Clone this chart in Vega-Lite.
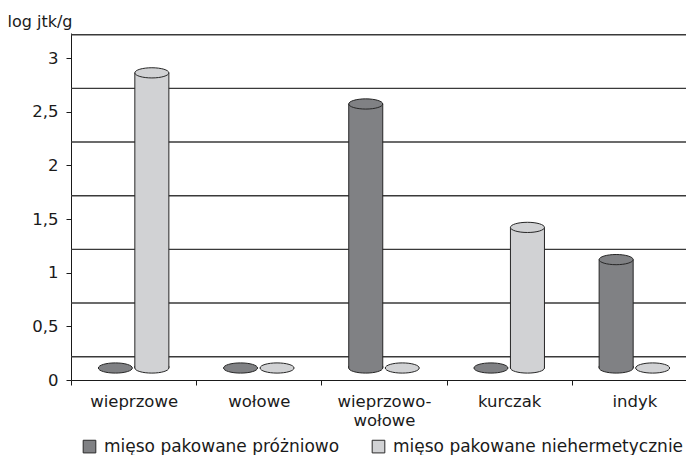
{
  "$schema": "https://vega.github.io/schema/vega-lite/v6.json",
  "width": 615,
  "height": 347,
  "autosize": {"type": "none"},
  "padding": {"left": 71, "top": 33, "right": 0, "bottom": 75},
  "background": "white",
  "config": {"view": {"stroke": null}, "font": "DejaVu Sans"},
  "datasets": {
    "bars": [
      {"category": "wieprzowe", "series": "mięso pakowane próżniowo", "value": 0},
      {"category": "wieprzowe", "series": "mięso pakowane niehermetycznie", "value": 2.75},
      {"category": "wołowe", "series": "mięso pakowane próżniowo", "value": 0},
      {"category": "wołowe", "series": "mięso pakowane niehermetycznie", "value": 0},
      {"category": "wieprzowo-wołowe", "series": "mięso pakowane próżniowo", "value": 2.46},
      {"category": "wieprzowo-wołowe", "series": "mięso pakowane niehermetycznie", "value": 0},
      {"category": "kurczak", "series": "mięso pakowane próżniowo", "value": 0},
      {"category": "kurczak", "series": "mięso pakowane niehermetycznie", "value": 1.31},
      {"category": "indyk", "series": "mięso pakowane próżniowo", "value": 1.01},
      {"category": "indyk", "series": "mięso pakowane niehermetycznie", "value": 0}
    ],
    "grid": [
      {"value": 0}, {"value": 0.5}, {"value": 1}, {"value": 1.5}, {"value": 2}, {"value": 2.5}, {"value": 3}
    ]
  },
  "encoding": {
    "y": {
      "field": "value",
      "type": "quantitative",
      "scale": {"domain": [0, 3.233], "nice": false, "zero": true},
      "axis": {
        "values": [0, 0.5, 1, 1.5, 2, 2.5, 3],
        "labelExpr": "replace(format(datum.value, '~g'), '.', ',')",
        "grid": false,
        "domainColor": "#1a1a1a",
        "tickColor": "#1a1a1a",
        "tickSize": 5,
        "labelPadding": 8,
        "labelFontSize": 16.5,
        "labelColor": "#1a1a1a",
        "title": "log jtk/g",
        "titleAngle": 0,
        "titleAlign": "left",
        "titleBaseline": "alphabetic",
        "titleX": -64,
        "titleY": -7,
        "titleFontSize": 16,
        "titleFontWeight": "normal",
        "titleColor": "#1a1a1a"
      }
    }
  },
  "layer": [
    {
      "data": {"name": "grid"},
      "mark": {"type": "rule", "yOffset": -23.3, "stroke": "#3a3a3a", "strokeWidth": 1.4}
    },
    {
      "data": {"name": "bars"},
      "encoding": {
        "x": {
          "field": "category",
          "type": "nominal",
          "sort": ["wieprzowe", "wołowe", "wieprzowo-wołowe", "kurczak", "indyk"],
          "scale": {"range": [0, 626], "paddingInner": 0, "paddingOuter": 0},
          "axis": {
            "title": null,
            "tickBand": "extent",
            "tickSize": 5,
            "labelPadding": 8,
            "labelFontSize": 16.5,
            "labelAngle": 0,
            "labelColor": "#1a1a1a",
            "labelLineHeight": 19,
            "labelExpr": "datum.value == 'wieprzowo-wołowe' ? ['wieprzowo-', 'wołowe'] : datum.value",
            "domainColor": "#1a1a1a",
            "tickColor": "#1a1a1a"
          }
        },
        "xOffset": {
          "field": "series",
          "type": "nominal",
          "sort": ["mięso pakowane próżniowo", "mięso pakowane niehermetycznie"],
          "scale": {"paddingInner": 0.068, "paddingOuter": 0.749}
        },
        "color": {
          "field": "series",
          "type": "nominal",
          "scale": {
            "domain": ["mięso pakowane próżniowo", "mięso pakowane niehermetycznie"],
            "range": ["#808184", "#d1d2d4"]
          },
          "legend": {
            "orient": "none",
            "legendX": 10,
            "legendY": 405,
            "direction": "horizontal",
            "title": null,
            "labelFontSize": 17,
            "labelColor": "#1a1a1a",
            "labelOffset": 6,
            "labelLimit": 0,
            "columnPadding": 30,
            "symbolType": "square",
            "symbolSize": 160,
            "symbolOpacity": 1,
            "symbolStrokeColor": "#2a2a2a",
            "symbolStrokeWidth": 1,
            "padding": 0
          }
        }
      },
      "layer": [
        {
          "transform": [{"filter": "datum.value > 0"}],
          "mark": {"type": "bar", "yOffset": -12, "y2Offset": -12, "stroke": "#262626", "strokeWidth": 1, "opacity": 1},
          "encoding": {"y2": {"datum": 0}}
        },
        {
          "transform": [{"filter": "datum.value > 0"}],
          "mark": {
            "type": "point",
            "shape": "M-1,-0.12L-1,0C-1,0.1657,-0.5523,0.3,0,0.3C0.5523,0.3,1,0.1657,1,0L1,-0.12",
            "size": 1156,
            "filled": true,
            "opacity": 1,
            "stroke": "#262626",
            "strokeWidth": 1,
            "yOffset": -12
          },
          "encoding": {"y": {"datum": 0}}
        },
        {
          "mark": {
            "type": "point",
            "shape": "M-1,0C-1,-0.1657,-0.5523,-0.3,0,-0.3C0.5523,-0.3,1,-0.1657,1,0C1,0.1657,0.5523,0.3,0,0.3C-0.5523,0.3,-1,0.1657,-1,0Z",
            "size": 1156,
            "filled": true,
            "opacity": 1,
            "stroke": "#262626",
            "strokeWidth": 1,
            "yOffset": -12
          }
        }
      ]
    }
  ]
}
